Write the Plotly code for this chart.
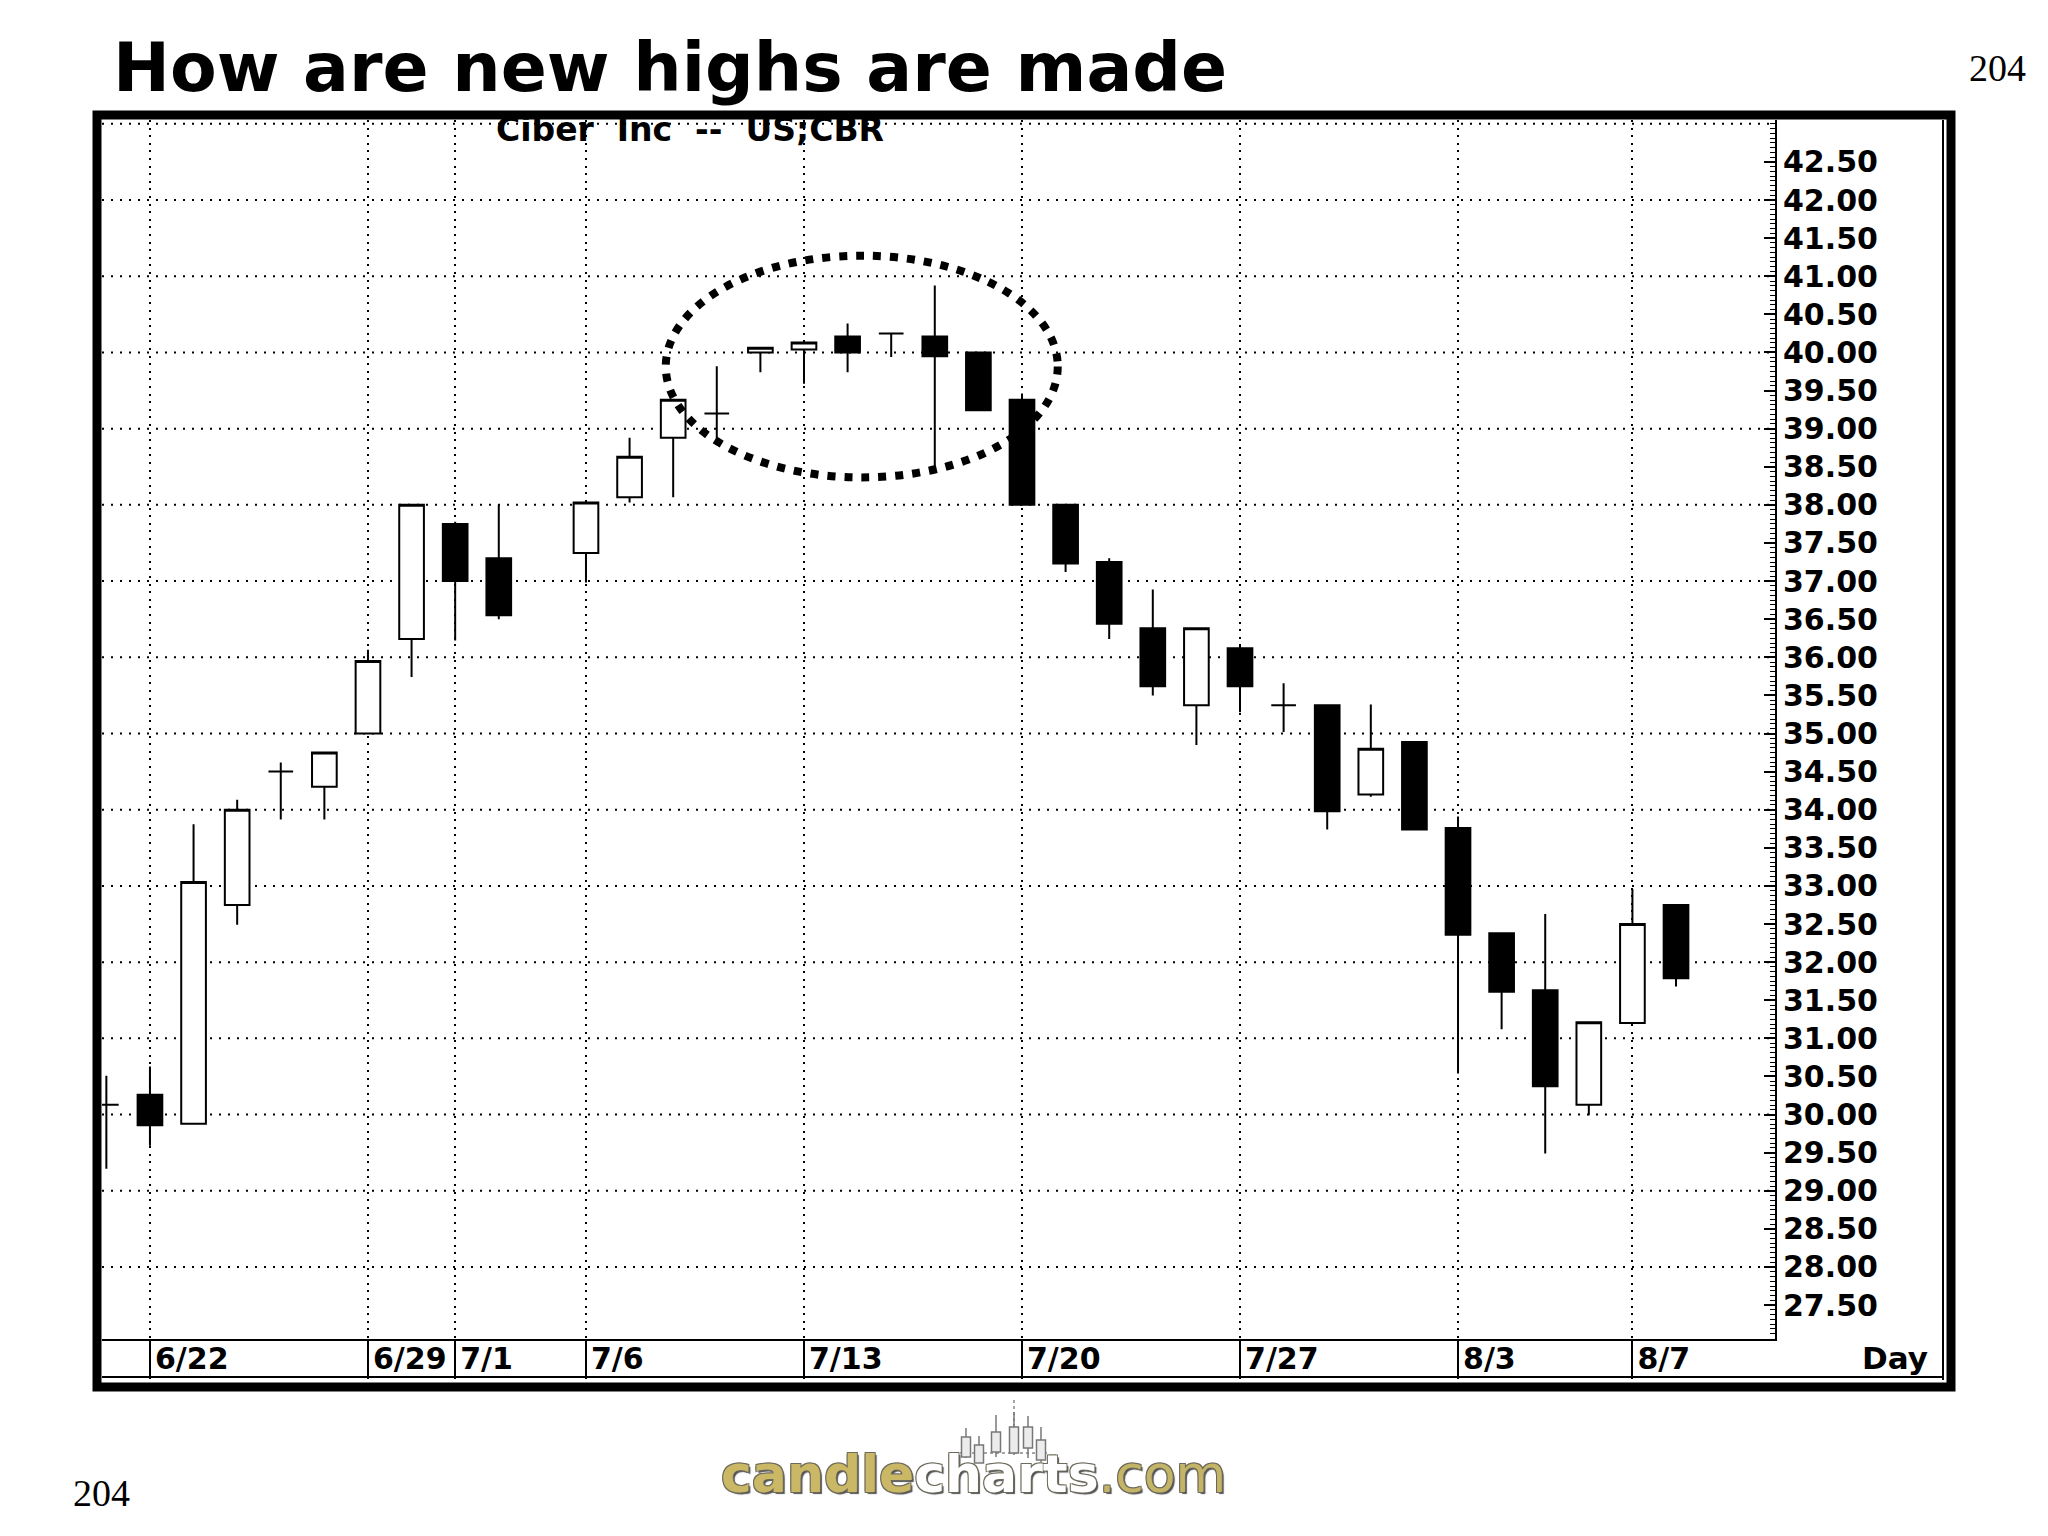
import numpy as np
import plotly.graph_objects as go

# ---------------- data ----------------
dates = ['1998-06-19', '1998-06-22', '1998-06-23', '1998-06-24', '1998-06-25', '1998-06-26',
         '1998-06-29', '1998-06-30', '1998-07-01', '1998-07-02',
         '1998-07-06', '1998-07-07', '1998-07-08', '1998-07-09', '1998-07-10',
         '1998-07-13', '1998-07-14', '1998-07-15', '1998-07-16', '1998-07-17',
         '1998-07-20', '1998-07-21', '1998-07-22', '1998-07-23', '1998-07-24',
         '1998-07-27', '1998-07-28', '1998-07-29', '1998-07-30', '1998-07-31',
         '1998-08-03', '1998-08-04', '1998-08-05', '1998-08-06', '1998-08-07',
         '1998-08-10']
opens = [30.13, 30.26, 29.88, 32.75, 34.50, 34.30,
         35.00, 36.24, 37.75, 37.30,
         37.37, 38.10, 38.88, 39.20, 40.00,
         40.04, 40.21, 40.25, 40.21, 40.00,
         39.38, 38.00, 37.25, 36.38, 35.37,
         36.12, 35.37, 35.37, 34.20, 34.89,
         33.76, 32.38, 31.63, 30.13, 31.20,
         32.75]
highs = [30.51, 30.63, 33.81, 34.13, 34.62, 34.75,
         36.10, 38.00, 37.78, 38.00,
         38.05, 38.88, 39.38, 39.82, 40.06,
         40.13, 40.38, 40.25, 40.88, 40.00,
         39.46, 38.00, 37.30, 36.89, 36.38,
         36.15, 35.66, 35.37, 35.38, 34.89,
         33.91, 32.38, 32.63, 31.21, 32.96,
         32.75]
lows = [29.29, 29.59, 29.88, 32.49, 33.87, 33.87,
        35.00, 35.74, 36.22, 36.50,
        36.98, 38.03, 38.10, 38.83, 39.74,
        39.59, 39.74, 39.94, 38.50, 39.24,
        38.00, 37.12, 36.24, 35.50, 34.85,
        35.28, 35.02, 33.74, 34.17, 33.74,
        30.54, 31.12, 29.49, 29.99, 31.20,
        31.68]
closes = [30.13, 29.86, 33.05, 34.00, 34.50, 34.75,
          35.95, 38.00, 37.00, 36.55,
          38.03, 38.63, 39.38, 39.20, 40.06,
          40.13, 40.00, 40.25, 39.95, 39.24,
          38.00, 37.23, 36.44, 35.62, 36.38,
          35.62, 35.37, 33.98, 34.80, 33.74,
          32.36, 31.61, 30.37, 31.21, 32.50,
          31.79]

label_dates = ['1998-06-22', '1998-06-29', '1998-07-01', '1998-07-06', '1998-07-13',
               '1998-07-20', '1998-07-27', '1998-08-03', '1998-08-07']
label_text = ['6/22', '6/29', '7/1', '7/6', '7/13', '7/20', '7/27', '8/3', '8/7']

price_labels = np.arange(27.5, 42.51, 0.5)   # labelled prices on the right axis
grid_prices = np.arange(28, 43.01, 1.0)      # dotted horizontal grid levels

first_day = '1998-06-19'
slot = np.busday_count(first_day, dates)          # one slot per weekday (7/3 holiday left empty)
label_slot = np.busday_count(first_day, label_dates)

# ---------------- layout geometry (screen pixels; page body has an 8px margin) ----------------
OFF = 8
W, H = 2048 - 2 * OFF, 1536 - 2 * OFF
L, R, T, B = 102 - OFF, 1775 - OFF, 120 - OFF, 1339 - OFF


def px(xs):
    return (xs - OFF - L) / (R - L)


def py(ys):
    return (B - (ys - OFF)) / (B - T)


FONT = 'DejaVu Sans'
XR = [-0.10, 38.27]
YR = [27.055, 43.05]

fig = go.Figure()
fig.add_trace(go.Candlestick(
    x=slot, open=opens, high=highs, low=lows, close=closes,
    increasing=dict(fillcolor='white', line=dict(color='black', width=2)),
    decreasing=dict(fillcolor='black', line=dict(color='black', width=2)),
    whiskerwidth=0, hoverinfo='skip', showlegend=False,
))

fig.update_layout(
    width=W, height=H,
    margin=dict(l=L, r=W - R, t=T, b=H - B, pad=0),
    paper_bgcolor='white', plot_bgcolor='white',
    showlegend=False, boxgap=0.434, boxgroupgap=0,
    xaxis=dict(
        range=XR, tickmode='array', tickvals=label_slot, ticktext=label_text,
        showgrid=True, gridcolor='black', gridwidth=2, griddash='2px,5.6px',
        ticks='outside', ticklen=38, tickwidth=2, tickcolor='black',
        ticklabelposition='outside right', ticklabelstandoff=-8, ticklabelshift=3,
        tickfont=dict(family=FONT, size=30, color='black', weight=700),
        showline=True, linecolor='black', linewidth=2, zeroline=False,
        rangeslider=dict(visible=False), fixedrange=True,
    ),
    yaxis=dict(
        side='right', range=YR, tickmode='array', tickvals=price_labels, tickformat='.2f',
        ticks='inside', ticklen=11, tickwidth=2, tickcolor='black',
        minor=dict(tickmode='linear', tick0=27.5, dtick=0.0625, ticks='inside', ticklen=5,
                   tickwidth=1, tickcolor='black', showgrid=False),
        showgrid=False, showline=True, linecolor='black', linewidth=2, zeroline=False,
        tickfont=dict(family=FONT, size=30, color='black', weight=700),
        fixedrange=True,
    ),
)

shapes = [
    dict(type='line', xref='paper', yref='y', x0=0, x1=1, y0=g, y1=g, layer='below',
         line=dict(color='black', width=2, dash='2px,7px'))
    for g in grid_prices
]
shapes += [
    # ellipse drawn around the top
    dict(type='circle', xref='x', yref='y', x0=12.83, x1=21.82, y0=38.36, y1=41.27,
         line=dict(color='black', width=8, dash='8px,9px'), layer='above'),
    # bottom line of the date strip
    dict(type='line', xref='paper', yref='paper', x0=px(102), x1=px(1943), y0=py(1377), y1=py(1377),
         line=dict(color='black', width=2)),
    # inner right frame line
    dict(type='line', xref='paper', yref='paper', x0=px(1943), x1=px(1943), y0=py(120), y1=py(1380),
         line=dict(color='black', width=2)),
    # thick outer frame
    dict(type='rect', xref='paper', yref='paper', x0=px(97), x1=px(1951), y0=py(115), y1=py(1387),
         line=dict(color='black', width=9)),
]

# small candle icon of the candlecharts.com logo (decoration, screen pixels)
logo_icon = [  # (x, wick top, wick bottom, body top, body bottom)
    (966, 1428, 1458, 1437, 1457),
    (979, 1436, 1463, 1445, 1463),
    (996, 1415, 1457, 1432, 1452),
    (1014, 1412, 1455, 1427, 1453),
    (1028, 1416, 1458, 1427, 1448),
    (1041, 1427, 1462, 1440, 1460),
]
shapes.append(dict(type='line', xref='paper', yref='paper', x0=px(1014), x1=px(1014),
                   y0=py(1400), y1=py(1430), line=dict(color='#888', width=1.5, dash='3px,3px')))
shapes.append(dict(type='line', xref='paper', yref='paper', x0=px(960), x1=px(1050),
                   y0=py(1453), y1=py(1453), line=dict(color='#888', width=1.5, dash='3px,3px')))
for xc, wt, wb, bt, bb in logo_icon:
    shapes.append(dict(type='line', xref='paper', yref='paper', x0=px(xc), x1=px(xc),
                       y0=py(wt), y1=py(wb), line=dict(color='#777', width=1.5)))
    shapes.append(dict(type='rect', xref='paper', yref='paper', x0=px(xc - 4.5), x1=px(xc + 4.5),
                       y0=py(bt), y1=py(bb), fillcolor='#ececec', line=dict(color='#777', width=1.5)))
fig.update_layout(shapes=shapes)

annotations = [
    dict(text='<b>How are new highs are made</b>', x=px(111), y=py(67), xanchor='left', yanchor='middle',
         font=dict(family=FONT, size=68, color='black')),
    dict(text='204', x=px(1997), y=py(68), xanchor='center', yanchor='middle',
         font=dict(family='Liberation Serif', size=38, color='black')),
    dict(text='204', x=px(101), y=py(1493), xanchor='center', yanchor='middle',
         font=dict(family='Liberation Serif', size=38, color='black')),
    dict(text='Ciber\u00a0\u00a0Inc\u00a0\u00a0--\u00a0\u00a0US;CBR', x=px(690), y=py(130),
         xanchor='center', yanchor='middle',
         font=dict(family=FONT, size=33, color='black', weight=700)),
    dict(text='Day', x=px(1930), y=py(1358), xanchor='right', yanchor='middle',
         font=dict(family=FONT, size=31, color='black', weight=700)),
    dict(text='<b><span style="color:#cbb866">candle</span><span style="color:#ffffff">charts</span></b>'
              '<span style="color:#c4b468">.com</span>',
         x=px(973), y=py(1474), xanchor='center', yanchor='middle',
         font=dict(family=FONT, size=52, color='#cbb866',
                   shadow='-1px -1px 0 #6e6a5a, 1px -1px 0 #6e6a5a, -1px 1px 0 #6e6a5a, 2px 2px 1px #555')),
]
for a in annotations:
    a.setdefault('xref', 'paper')
    a.setdefault('yref', 'paper')
    a['showarrow'] = False
fig.update_layout(annotations=annotations)

fig.write_html('out.html')
